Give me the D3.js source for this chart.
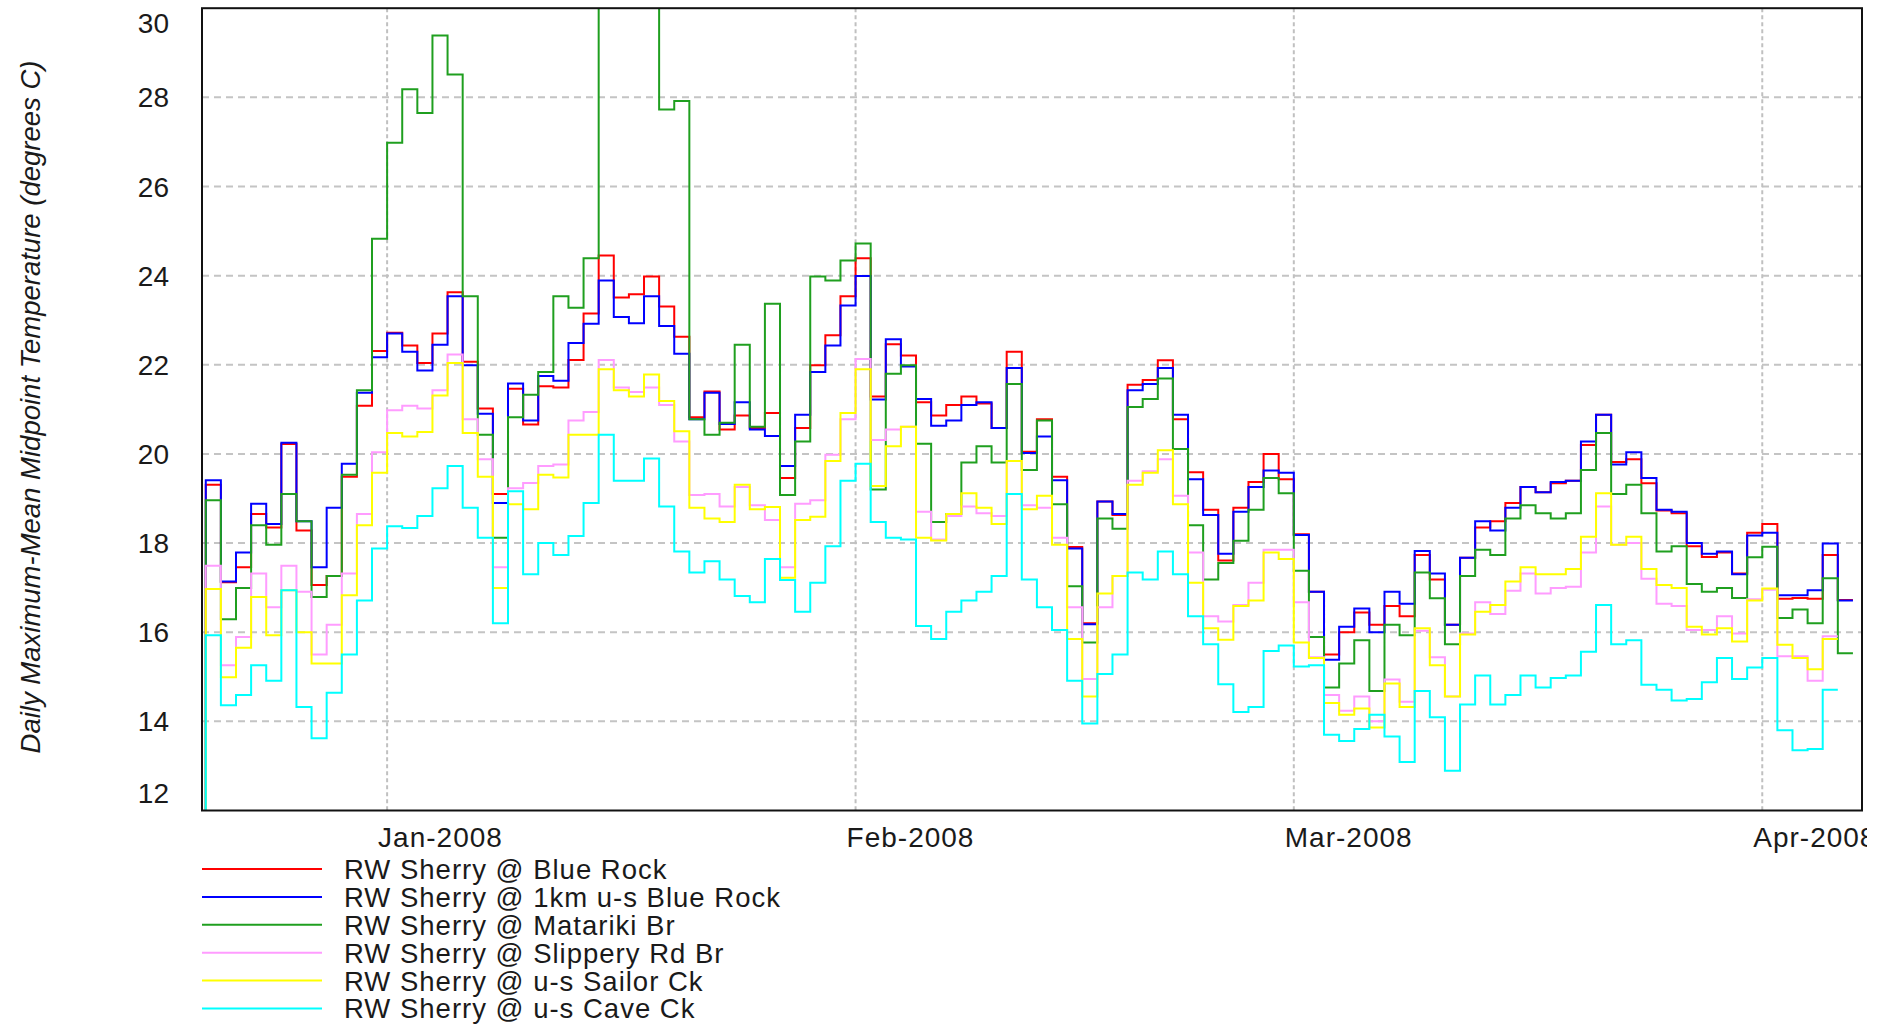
<!DOCTYPE html>
<html>
<head>
<meta charset="utf-8">
<script src="https://cdn.jsdelivr.net/npm/d3@7"></script>
<style>
  body { margin: 0; background: #fff; }
  svg { display: block; }
  text { font-family: "Liberation Sans", Arial, sans-serif; fill: #1a1a1a; }
</style>
</head>
<body>
<svg id="chart" width="1889" height="1026"></svg>
<script>
const width = 1889, height = 1026;

// daily values, first day 20 Dec 2007
const firstDay = Date.UTC(2007, 11, 20);

const seriesNames = [
  "RW Sherry @ Blue Rock",
  "RW Sherry @ 1km u-s Blue Rock",
  "RW Sherry @ Matariki Br",
  "RW Sherry @ Slippery Rd Br",
  "RW Sherry @ u-s Sailor Ck",
  "RW Sherry @ u-s Cave Ck"
];
const seriesColors = ["#ff0000", "#0000ff", "#1f9f1f", "#ff9cff", "#ffff00", "#00ffff"];

const blueRock = [
  19.31, 17.12, 17.46, 18.65, 18.35, 20.22, 18.28, 17.06, 17.26, 19.49, 21.08, 22.31,
  22.72, 22.43, 22.04, 22.70, 23.63, 22.07, 21.02, 19.10, 21.46, 20.66, 21.52, 21.49,
  22.11, 23.15, 24.45, 23.51, 23.58, 23.98, 23.31, 22.63, 20.82, 21.40, 20.55, 20.86,
  20.58, 20.92, 19.46, 20.58, 21.99, 22.66, 23.54,
  24.39, 21.29, 22.46, 22.21, 21.16, 20.86, 21.10, 21.29, 21.13, 20.58, 22.29, 20.05,
  20.78, 19.49, 17.91, 16.20, 18.93, 18.63, 21.55, 21.66, 22.10, 20.78, 19.59, 18.75,
  17.61, 18.79, 19.37, 20.00, 19.43,
  18.20, 16.91, 15.50, 16.00, 16.44, 16.17, 16.59, 16.36, 17.73, 17.18, 16.17, 17.67,
  18.35, 18.49, 18.90, 19.26, 19.14, 19.34, 19.40, 20.20, 20.88, 19.82, 19.88, 19.34,
  18.73, 18.67, 17.93, 17.69, 17.79, 17.32, 18.23,
  18.43, 16.75, 16.77, 16.75, 17.73, 16.72
];
const upBlueRock = [
  19.41, 17.14, 17.79, 18.88, 18.43, 20.25, 18.49, 17.46, 18.79, 19.78, 21.37, 22.17,
  22.70, 22.29, 21.87, 22.45, 23.54, 21.99, 20.90, 18.90, 21.58, 20.75, 21.75, 21.64,
  22.49, 22.92, 23.89, 23.07, 22.93, 23.54, 22.87, 22.25, 20.78, 21.37, 20.67, 21.16,
  20.55, 20.40, 19.73, 20.88, 21.84, 22.43, 23.33,
  23.99, 21.22, 22.57, 21.96, 21.23, 20.63, 20.75, 21.10, 21.16, 20.58, 21.93, 20.02,
  20.39, 19.41, 17.88, 16.18, 18.93, 18.65, 21.43, 21.57, 21.93, 20.88, 19.43, 18.63,
  17.76, 18.70, 19.26, 19.63, 19.58,
  18.18, 16.91, 15.38, 16.12, 16.53, 16.00, 16.91, 16.64, 17.82, 17.32, 16.17, 17.67,
  18.49, 18.28, 18.79, 19.26, 19.14, 19.37, 19.40, 20.28, 20.88, 19.76, 20.04, 19.46,
  18.75, 18.70, 18.00, 17.76, 17.81, 17.30, 18.17,
  18.23, 16.83, 16.83, 16.94, 17.99, 16.71
];
const matariki = [
  18.96, 16.29, 16.99, 18.40, 17.96, 19.10, 18.49, 16.79, 17.26, 19.53, 21.43, 24.83,
  26.98, 28.18, 27.65, 29.39, 28.51, 23.54, 20.43, 18.12, 20.82, 21.33, 21.84, 23.54,
  23.28, 24.39, 31.00, 31.00, 31.00, 31.00, 27.73, 27.92, 20.78, 20.43, 20.70, 22.45,
  20.61, 23.37, 19.08, 20.28, 23.98, 23.89, 24.34,
  24.72, 19.20, 21.80, 21.99, 20.23, 18.47, 18.65, 19.81, 20.17, 19.81, 21.57, 19.64,
  20.75, 18.87, 17.03, 15.77, 18.55, 18.32, 21.05, 21.23, 21.69, 20.11, 18.40, 17.18,
  17.55, 18.05, 18.75, 19.46, 19.12,
  17.38, 15.89, 14.76, 15.30, 15.82, 14.68, 16.17, 15.93, 17.34, 16.76, 15.73, 17.26,
  17.85, 17.73, 18.55, 18.85, 18.67, 18.55, 18.67, 19.64, 20.47, 19.10, 19.31, 18.67,
  17.81, 17.93, 17.08, 16.91, 16.99, 16.77, 17.68,
  17.92, 16.32, 16.51, 16.20, 17.21, 15.53
];
const slipperyRd = [
  17.49, 15.26, 15.89, 17.32, 16.56, 17.49, 16.91, 15.50, 16.17, 17.32, 18.65, 20.04,
  20.98, 21.08, 21.02, 21.43, 22.23, 20.78, 19.88, 17.46, 19.23, 19.35, 19.73, 19.76,
  20.75, 20.94, 22.11, 21.49, 21.39, 21.49, 21.10, 20.28, 19.08, 19.10, 18.82, 19.26,
  18.85, 18.52, 17.46, 18.88, 18.96, 19.98, 20.78,
  22.13, 20.31, 20.55, 20.61, 18.70, 18.08, 18.61, 18.82, 18.67, 18.61, 19.84, 18.85,
  18.79, 18.12, 16.56, 14.95, 16.56, 17.26, 19.40, 19.61, 19.88, 19.06, 17.79, 16.36,
  16.24, 16.61, 17.11, 17.85, 17.85,
  16.67, 15.44, 14.59, 14.24, 14.56, 14.00, 14.94, 14.44, 16.03, 15.44, 14.56, 15.97,
  16.67, 16.41, 16.93, 17.32, 16.87, 16.99, 17.02, 17.79, 18.82, 17.96, 18.00, 17.20,
  16.64, 16.59, 16.05, 16.05, 16.36, 15.97, 16.74,
  16.95, 15.46, 15.46, 14.91, 15.91
];
const sailorCk = [
  16.97, 14.99, 15.65, 16.79, 15.93, 16.94, 16.00, 15.30, 15.30, 16.83, 18.40, 19.58,
  20.47, 20.39, 20.49, 21.31, 22.04, 20.47, 19.49, 16.99, 18.87, 18.76, 19.53, 19.47,
  20.43, 20.43, 21.90, 21.43, 21.29, 21.78, 21.19, 20.51, 18.79, 18.55, 18.47, 19.31,
  18.76, 18.81, 17.22, 18.52, 18.59, 19.84, 20.92,
  21.90, 19.28, 20.17, 20.61, 18.12, 18.06, 18.65, 19.12, 18.79, 18.43, 19.84, 18.76,
  19.06, 17.96, 15.85, 14.56, 16.87, 17.26, 19.31, 19.58, 20.08, 18.87, 17.11, 16.09,
  15.83, 16.59, 16.71, 17.79, 17.64,
  15.77, 15.42, 14.41, 14.15, 14.29, 13.86, 14.85, 14.32, 16.09, 15.26, 14.56, 15.95,
  16.46, 16.61, 17.14, 17.46, 17.30, 17.30, 17.42, 18.14, 19.12, 17.96, 18.14, 17.42,
  17.06, 16.99, 16.12, 15.95, 16.09, 15.79, 16.71,
  16.98, 15.72, 15.42, 15.17, 15.85
];
const caveCk = [
  15.93, 14.36, 14.59, 15.26, 14.91, 16.94, 14.32, 13.62, 14.64, 15.50, 16.71, 17.88,
  18.38, 18.34, 18.61, 19.23, 19.73, 18.79, 18.12, 16.20, 19.16, 17.30, 18.00, 17.73,
  18.16, 18.90, 20.43, 19.40, 19.40, 19.90, 18.82, 17.81, 17.34, 17.59, 17.18, 16.81,
  16.67, 17.64, 17.17, 16.46, 17.11, 17.93, 19.40,
  19.78, 18.47, 18.12, 18.08, 16.14, 15.85, 16.46, 16.71, 16.91, 17.26, 19.10, 17.18,
  16.56, 16.05, 14.91, 13.95, 15.06, 15.50, 17.34, 17.18, 17.81, 17.30, 16.36, 15.73,
  14.83, 14.21, 14.32, 15.58, 15.70,
  15.23, 15.26, 13.70, 13.56, 13.83, 14.15, 13.66, 13.09, 14.68, 14.09, 12.89, 14.38,
  15.03, 14.38, 14.59, 15.03, 14.76, 14.97, 15.03, 15.56, 16.61, 15.73, 15.82, 14.82,
  14.71, 14.47, 14.50, 14.88, 15.42, 14.95, 15.21,
  15.42, 13.80, 13.35, 13.38, 14.71
];

const allSeries = [blueRock, upBlueRock, matariki, slipperyRd, sailorCk, caveCk];

const yTicks = [12, 14, 16, 18, 20, 22, 24, 26, 28, 30];
const monthTicks = [Date.UTC(2008, 0, 1), Date.UTC(2008, 1, 1), Date.UTC(2008, 2, 1), Date.UTC(2008, 3, 1)];

const plot = { left: 202, right: 1862, top: 8.2, bottom: 810.5 };

const x = d3.scaleUtc()
    .domain([Date.UTC(2007, 11, 19, 18), Date.UTC(2008, 3, 7, 14, 24)])
    .range([plot.left, plot.right]);

const y = d3.scaleLinear()
    .domain([12, 30])
    .range([plot.bottom, plot.top]);

const svg = d3.select("#chart");

svg.append("defs").append("clipPath").attr("id", "plot-clip")
  .append("rect")
    .attr("x", plot.left).attr("y", plot.top)
    .attr("width", plot.right - plot.left).attr("height", plot.bottom - plot.top);

svg.select("defs").append("clipPath").attr("id", "label-clip")
  .append("rect").attr("x", 0).attr("y", 0).attr("width", 1867).attr("height", height);

// grid
const grid = svg.append("g");
grid.selectAll(".hgrid")
  .data(yTicks.filter(t => t > 12 && t < 30))
  .join("line")
    .attr("x1", plot.left).attr("x2", plot.right)
    .attr("y1", d => y(d)).attr("y2", d => y(d))
    .attr("stroke", "#c4c4c4").attr("stroke-width", 2)
    .attr("stroke-dasharray", "7,5");

grid.selectAll(".vgrid")
  .data(monthTicks)
  .join("line")
    .attr("x1", d => x(d)).attr("x2", d => x(d))
    .attr("y1", plot.top).attr("y2", plot.bottom)
    .attr("stroke", "#c0c0c0").attr("stroke-width", 2)
    .attr("stroke-dasharray", "4,3");

// series as daily steps
const line = d3.line()
    .x(d => x(d.date))
    .y(d => y(d.value))
    .curve(d3.curveStepAfter);

const lines = svg.append("g").attr("clip-path", "url(#plot-clip)");

allSeries.forEach((vals, i) => {
  const pts = vals.map((v, k) => ({ date: d3.utcDay.offset(firstDay, k), value: v }));
  pts.unshift({ date: pts[0].date, value: y.domain()[0] });
  pts.push({ date: d3.utcDay.offset(firstDay, vals.length), value: vals[vals.length - 1] });
  lines.append("path")
    .datum(pts)
    .attr("fill", "none")
    .attr("stroke", seriesColors[i])
    .attr("stroke-width", 2)
    .attr("d", line);
});

// frame
svg.append("rect")
    .attr("x", plot.left).attr("y", plot.top)
    .attr("width", plot.right - plot.left).attr("height", plot.bottom - plot.top)
    .attr("fill", "none").attr("stroke", "#111").attr("stroke-width", 2);

// y tick labels
svg.append("g").selectAll("text")
  .data(yTicks)
  .join("text")
    .attr("x", 169)
    .attr("y", d => y(d) + (d === 30 ? 15 : d === 12 ? -18 : 0))
    .attr("dy", "0.36em")
    .attr("text-anchor", "end")
    .style("font-size", "28px")
    .text(d => d);

// x tick labels
svg.append("g").attr("clip-path", "url(#label-clip)").selectAll("text")
  .data(monthTicks)
  .join("text")
    .attr("x", d => x(d) - 9)
    .attr("y", 837)
    .attr("dy", "0.36em")
    .style("font-size", "28px")
    .style("letter-spacing", "1px")
    .text(d => d3.utcFormat("%b-%Y")(d));

// y title
svg.append("text")
    .attr("transform", "translate(30,407) rotate(-90)")
    .attr("text-anchor", "middle")
    .attr("dy", "0.36em")
    .style("font-size", "27.5px")
    .style("font-style", "italic")
    .text("Daily Maximum-Mean Midpoint Temperature (degrees C)");

// legend
const legend = svg.append("g").selectAll("g")
  .data(seriesNames)
  .join("g")
    .attr("transform", (d, i) => `translate(0,${869 + i * 27.9})`);

legend.append("line")
    .attr("x1", 202).attr("x2", 322)
    .attr("stroke", (d, i) => seriesColors[i])
    .attr("stroke-width", 2);

legend.append("text")
    .attr("x", 344)
    .attr("dy", "0.36em")
    .style("font-size", "27.5px")
    .style("letter-spacing", "1px")
    .text(d => d);
</script>
</body>
</html>
